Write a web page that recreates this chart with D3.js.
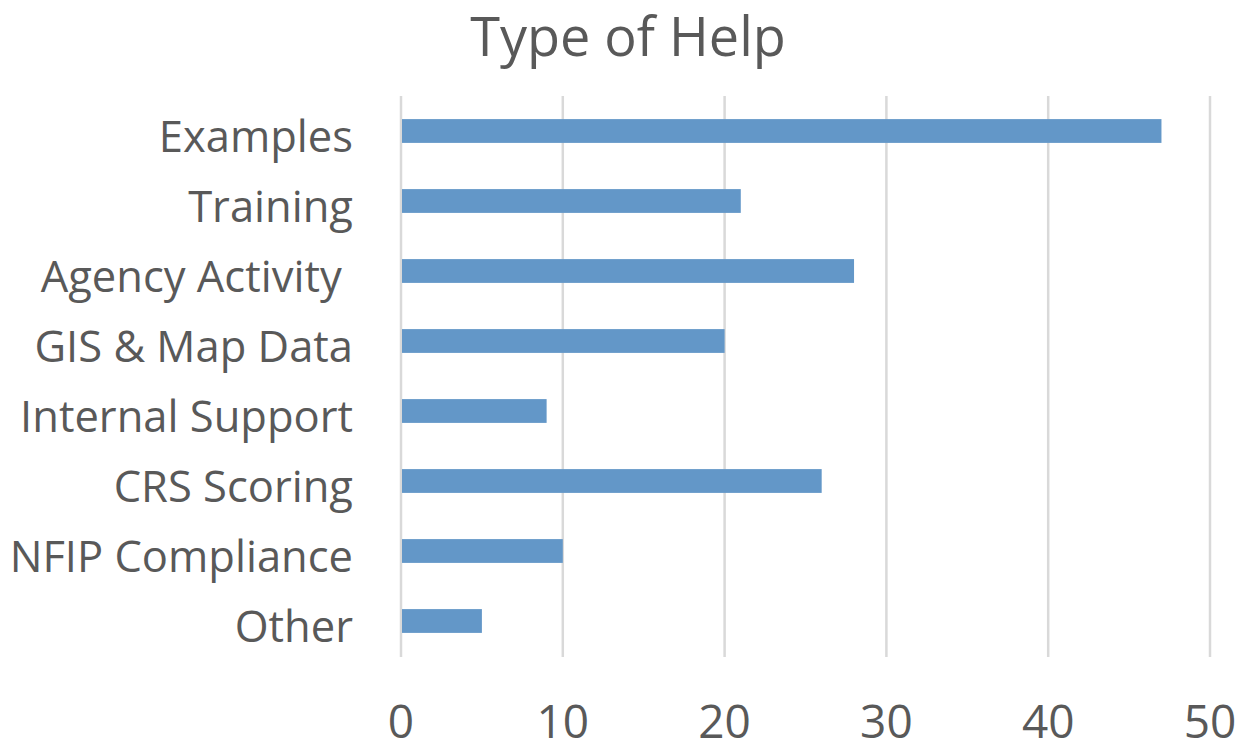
<!DOCTYPE html>
<html>
<head>
<meta charset="utf-8">
<script src="https://cdn.jsdelivr.net/npm/d3@7"></script>
<style>
  html, body { margin: 0; padding: 0; background: #fff; }
  svg { display: block; }
  text { font-family: "Open Sans", "Liberation Sans", sans-serif; fill: #595959; }
</style>
</head>
<body>
<svg id="chart" width="1245" height="746"></svg>
<script>
// Help categories, top to bottom
const categories = ["Examples", "Training", "Agency Activity ", "GIS & Map Data",
                    "Internal Support", "CRS Scoring", "NFIP Compliance", "Other"];
// Number of responses per category
const counts = [47, 21, 28, 20, 9, 26, 10, 5];
// Horizontal axis ticks
const tickValues = [0, 10, 20, 30, 40, 50];

const svg = d3.select("#chart");

const plot = { left: 401, right: 1210, top: 96, bottom: 656 };

const x = d3.scaleLinear().domain([0, 50]).range([plot.left, plot.right]);
const y = d3.scaleBand().domain(categories)
  .range([plot.top, plot.bottom])
  .paddingInner(0.66).paddingOuter(0.33);

// Title
svg.append("text")
  .attr("x", 628).attr("y", 56)
  .attr("text-anchor", "middle")
  .style("font-size", "54px")
  .text("Type of Help");

// Vertical gridlines
svg.append("g").selectAll("line").data(tickValues).join("line")
  .attr("x1", d => x(d)).attr("x2", d => x(d))
  .attr("y1", plot.top).attr("y2", plot.bottom + 1)
  .attr("stroke", "#d9d9d9").attr("stroke-width", 2.5);

// Bars
svg.append("g").selectAll("rect").data(counts).join("rect")
  .attr("x", x(0) + 1)
  .attr("y", (d, i) => y(categories[i]))
  .attr("width", d => x(d) - x(0) - 1)
  .attr("height", y.bandwidth())
  .attr("fill", "#6397c8");

// Category labels
svg.append("g").selectAll("text").data(categories).join("text")
  .attr("x", 353)
  .attr("y", d => y(d) + y.bandwidth() / 2 + 21)
  .attr("text-anchor", "end")
  .style("font-size", "43.5px")
  .style("white-space", "pre")
  .text(d => d);

// Tick labels
svg.append("g").selectAll("text").data(tickValues).join("text")
  .attr("x", d => x(d))
  .attr("y", 738)
  .attr("text-anchor", "middle")
  .style("font-size", "46px")
  .text(d => d);
</script>
</body>
</html>
